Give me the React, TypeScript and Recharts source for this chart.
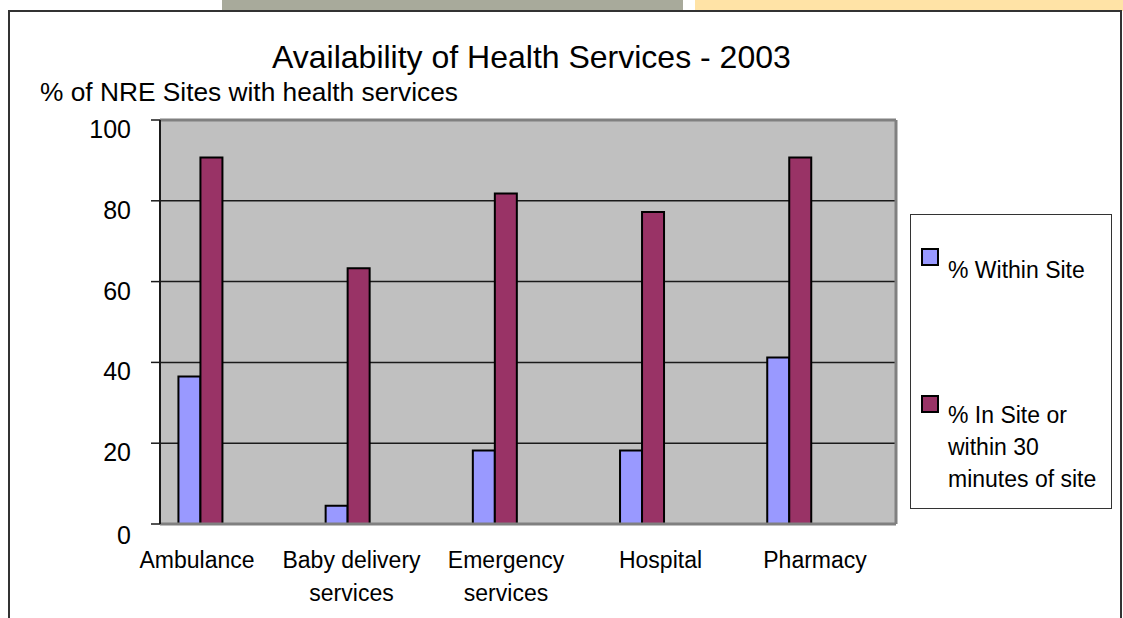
import { BarChart, Bar, XAxis, YAxis, CartesianGrid, ReferenceLine } from 'recharts';

const categories = ['Ambulance', 'Baby delivery\nservices', 'Emergency\nservices', 'Hospital', 'Pharmacy'];
const withinSite = [36.5, 4.5, 18.2, 18.2, 41.2];
const within30 = [90.7, 63.3, 81.8, 77.2, 90.7];
const seriesNames = ['% Within Site', '% In Site or within 30 minutes of site'];
const seriesColors = ['#9999FF', '#993366'];
const yTicks = [0, 20, 40, 60, 80, 100];

const data = categories.map((name, i) => ({
  idx: i,
  name,
  within: withinSite[i],
  near: within30[i],
}));

const font = 'Arial, "Liberation Sans", sans-serif';

function XTick({ x, y, payload }: any) {
  const lines = String(categories[payload.value] ?? '').split('\n');
  return (
    <text x={x} y={y} textAnchor="middle" fontSize={23} fill="#000" fontFamily={font}>
      {lines.map((l, i) => (
        <tspan key={i} x={x} dy={i === 0 ? 17 : 33}>
          {l}
        </tspan>
      ))}
    </text>
  );
}

function YTick({ x, y, payload }: any) {
  return (
    <text x={x} y={y} dy={payload.value === 0 ? 11 : 9} textAnchor="end" dominantBaseline="central" fontSize={25} fill="#000" fontFamily={font}>
      {payload.value}
    </text>
  );
}

export default function App() {
  return (
    <div
      style={{
        position: 'absolute',
        left: 0,
        top: 0,
        width: 1123,
        height: 618,
        overflow: 'hidden',
        background: '#fff',
        fontFamily: font,
        color: '#000',
      }}
    >
      {/* slide decoration strips */}
      <div style={{ position: 'absolute', left: 222, top: 0, width: 461, height: 11, background: '#A8AA9B' }} />
      <div style={{ position: 'absolute', left: 695, top: 0, width: 428, height: 11, background: '#FFE3A6' }} />
      <div
        style={{
          position: 'absolute',
          left: 8,
          top: 10,
          width: 1114,
          height: 700,
          border: '2px solid #333',
          boxSizing: 'border-box',
        }}
      />

      <div style={{ position: 'absolute', left: 272, top: 41, fontSize: 32, lineHeight: '32px', whiteSpace: 'nowrap' }}>
        Availability of Health Services - 2003
      </div>
      <div style={{ position: 'absolute', left: 40, top: 79, fontSize: 26.3, lineHeight: '26px', whiteSpace: 'nowrap' }}>
        % of NRE Sites with health services
      </div>

      <div style={{ position: 'absolute', left: 0, top: 0 }}>
        <BarChart
          width={1123}
          height={618}
          data={data}
          margin={{ top: 120, right: 227, bottom: 14, left: 100 }}
          barGap={0}
        >
          <CartesianGrid xAxisId="bars" vertical={false} fill="#C0C0C0" stroke="#1a1a1a" strokeWidth={1.5} />
          <XAxis
            xAxisId="labels"
            type="number"
            dataKey="idx"
            domain={[-0.2395, 4.524]}
            ticks={[0, 1, 2, 3, 4]}
            allowDataOverflow
            tick={<XTick />}
            tickLine={false}
            tickSize={0}
            tickMargin={27}
            height={80}
            axisLine={{ stroke: '#808080', strokeWidth: 3 }}
          />
          <XAxis
            xAxisId="bars"
            type="number"
            dataKey="idx"
            domain={[-0.272, 4.728]}
            hide
            height={0}
            allowDataOverflow
          />
          <YAxis
            domain={[0, 100]}
            ticks={yTicks}
            width={60}
            tickSize={9}
            tickMargin={20}
            tick={<YTick />}
            axisLine={{ stroke: '#1a1a1a', strokeWidth: 2 }}
            tickLine={{ stroke: '#1a1a1a', strokeWidth: 1.5 }}
          />
          <ReferenceLine xAxisId="bars" y={100} stroke="#808080" strokeWidth={3} />
          <ReferenceLine xAxisId="bars" x={4.728} stroke="#808080" strokeWidth={3} />
          <Bar
            xAxisId="bars"
            dataKey="within"
            name={seriesNames[0]}
            fill={seriesColors[0]}
            stroke="#000"
            strokeWidth={2}
            barSize={22}
            isAnimationActive={false}
          />
          <Bar
            xAxisId="bars"
            dataKey="near"
            name={seriesNames[1]}
            fill={seriesColors[1]}
            stroke="#000"
            strokeWidth={2}
            barSize={22}
            isAnimationActive={false}
          />
        </BarChart>
      </div>

      {/* legend */}
      <div
        style={{
          position: 'absolute',
          left: 910,
          top: 214,
          width: 202,
          height: 295,
          border: '1px solid #333',
          boxSizing: 'border-box',
          background: '#fff',
        }}
      >
        {seriesNames.map((n, i) => (
          <div key={n}>
            <div
              style={{
                position: 'absolute',
                left: 10,
                top: i === 0 ? 33 : 180,
                width: 18,
                height: 18,
                background: seriesColors[i],
                border: '2px solid #000',
                boxSizing: 'border-box',
              }}
            />
            <div
              style={{
                position: 'absolute',
                left: 37,
                top: i === 0 ? 39 : 184,
                width: 156,
                fontSize: 23,
                lineHeight: '32px',
              }}
            >
              {n}
            </div>
          </div>
        ))}
      </div>
    </div>
  );
}
